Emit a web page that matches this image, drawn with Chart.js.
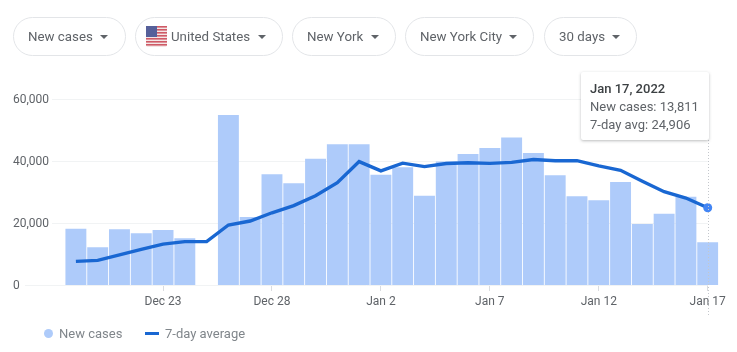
<!DOCTYPE html>
<html lang="en">
<head>
    <meta charset="UTF-8">
    <title>New cases</title>
    <script src="https://cdn.jsdelivr.net/npm/chart.js"></script>
    <style>
        body {
            margin: 0;
            background: #fff;
            font-family: Roboto, Arial, sans-serif;
            overflow: hidden;
        }
        #wrap { position: relative; width: 737px; height: 352px; }
        canvas { position: absolute; left: 0; top: 0; }
        .chip {
            position: absolute;
            top: 17px;
            height: 37px;
            border: 1px solid #e3e5e8;
            border-radius: 20px;
            font-size: 13.3px;
            line-height: 37px;
            color: #5f6368;
            box-sizing: content-box;
            white-space: nowrap;
        }
        .chip span { position: absolute; top: 0; }
        .chip i {
            position: absolute;
            top: 17px;
            width: 0;
            height: 0;
            border-left: 4.5px solid transparent;
            border-right: 4.5px solid transparent;
            border-top: 4.5px solid #5f6368;
        }
        .chip svg { position: absolute; left: 10px; top: 8px; }
        #tip {
            position: absolute;
            left: 581px;
            top: 72px;
            width: 128px;
            height: 68px;
            background: #fff;
            border-radius: 2px;
            box-shadow: 0 1px 3px rgba(60, 64, 67, 0.35);
            font-size: 13px;
            line-height: 18px;
            color: #5f6368;
            padding: 8px 0 0 9px;
            box-sizing: border-box;
        }
        #tip b { color: #3c4043; font-weight: 500; display: block; }
        .legend {
            position: absolute;
            top: 325px;
            font-size: 13px;
            line-height: 18px;
            color: #80868b;
        }
        .mark { position: absolute; }
    </style>
</head>
<body>
<div id="wrap">
    <canvas id="casesChart" width="737" height="352"></canvas>
    <div id="chips"></div>
    <div id="tip"></div>
    <div id="legend"></div>
</div>

<script>
    const days = [
        'Dec 19', 'Dec 20', 'Dec 21', 'Dec 22', 'Dec 23', 'Dec 24', 'Dec 25', 'Dec 26', 'Dec 27', 'Dec 28',
        'Dec 29', 'Dec 30', 'Dec 31', 'Jan 1', 'Jan 2', 'Jan 3', 'Jan 4', 'Jan 5', 'Jan 6', 'Jan 7',
        'Jan 8', 'Jan 9', 'Jan 10', 'Jan 11', 'Jan 12', 'Jan 13', 'Jan 14', 'Jan 15', 'Jan 16', 'Jan 17'
    ];
    const newCases = [
        18170, 12150, 17950, 16660, 17740, 15050, null, 54800, 21900, 35700,
        32800, 40750, 45400, 45400, 35600, 37950, 28800, 39800, 42250, 44200,
        47600, 42600, 35400, 28600, 27300, 33200, 19700, 23000, 28500, 13811
    ];
    const sevenDayAvg = [
        7630, 7950, 9700, 11500, 13200, 14000, 14000, 19350, 20640, 23300,
        25600, 28800, 33000, 39800, 36800, 39300, 38200, 39200, 39450, 39250,
        39550, 40500, 40100, 40100, 38400, 37000, 33500, 30100, 28050, 24906
    ];
    const xTickLabels = ['Dec 23', 'Dec 28', 'Jan 2', 'Jan 7', 'Jan 12', 'Jan 17'];
    const filterLabels = ['New cases', 'United States', 'New York', 'New York City', '30 days'];
    const seriesNames = ['New cases', '7-day average'];

    // chips across the top: [left, width, text left, caret left]
    const chipBoxes = [[13, 111, 14, 86], [135, 146, 35, 122], [292, 102, 14, 78], [405, 127, 14, 103], [544, 91, 14, 67]];
    const flag = '<svg width="21" height="21" viewBox="0 0 21 21">' +
        '<rect width="21" height="21" rx="2" fill="#f3e6e6"/>' +
        [0, 3, 6, 9, 12, 15, 18].map(y => '<rect y="' + y + '" width="21" height="1.6" fill="#cf5a66"/>').join('') +
        '<rect width="11" height="11" fill="#56609a"/></svg>';
    document.getElementById('chips').innerHTML = filterLabels.map((label, i) => {
        const b = chipBoxes[i];
        return '<div class="chip" style="left:' + b[0] + 'px;width:' + b[1] + 'px">' +
            (i === 1 ? flag : '') +
            '<span style="left:' + b[2] + 'px">' + label + '</span>' +
            '<i style="left:' + b[3] + 'px"></i></div>';
    }).join('');

    // tooltip for the last day
    const last = days.length - 1;
    document.getElementById('tip').innerHTML =
        '<b>' + days[last] + ', 2022</b>' +
        '<div>New cases: ' + newCases[last].toLocaleString('en-US') + '</div>' +
        '<div>7-day avg: ' + sevenDayAvg[last].toLocaleString('en-US') + '</div>';

    document.getElementById('legend').innerHTML =
        '<div class="mark" style="left:44px;top:329px;width:9px;height:9px;border-radius:50%;background:#aecbfa"></div>' +
        '<div class="legend" style="left:59px">' + seriesNames[0] + '</div>' +
        '<div class="mark" style="left:145px;top:332px;width:14px;height:3px;background:#1967d2"></div>' +
        '<div class="legend" style="left:165px">' + seriesNames[1] + '</div>';

    // grid lines start right after each label, so draw them here
    const gridAndCursor = {
        id: 'gridAndCursor',
        beforeDatasetsDraw(chart) {
            const ctx = chart.ctx;
            const x = chart.scales.x;
            const y = chart.scales.y;
            const right = x.getPixelForValue(last);
            ctx.save();
            ctx.strokeStyle = '#f1f3f4';
            ctx.lineWidth = 1;
            y.ticks.forEach(t => {
                const py = Math.round(y.getPixelForValue(t.value)) + 0.5;
                ctx.beginPath();
                ctx.moveTo(t.value === 0 ? 25 : 52, py);
                ctx.lineTo(right, py);
                ctx.stroke();
            });
            ctx.restore();
        },
        afterDatasetsDraw(chart) {
            const ctx = chart.ctx;
            const px = Math.round(chart.scales.x.getPixelForValue(last)) + 0.5;
            ctx.save();
            ctx.strokeStyle = '#c4c7cc';
            ctx.setLineDash([1, 2]);
            ctx.beginPath();
            ctx.moveTo(px, 140);
            ctx.lineTo(px, 317);
            ctx.stroke();
            ctx.restore();
        }
    };

    new Chart(document.getElementById('casesChart'), {
        type: 'bar',
        data: {
            labels: days,
            datasets: [
                {
                    type: 'line',
                    label: seriesNames[1],
                    data: sevenDayAvg,
                    borderColor: '#1967d2',
                    borderWidth: 3.4,
                    tension: 0,
                    pointRadius: ctx => ctx.dataIndex === last ? 4.5 : 0,
                    pointBackgroundColor: '#4285f4',
                    pointBorderWidth: 0,
                    order: 0
                },
                {
                    label: seriesNames[0],
                    data: newCases,
                    backgroundColor: '#aecbfa',
                    categoryPercentage: 1,
                    barPercentage: 0.96,
                    order: 1
                }
            ]
        },
        options: {
            responsive: false,
            animation: false,
            layout: { padding: { left: 13, right: 18.4, top: 99, bottom: 37 } },
            plugins: { legend: { display: false }, tooltip: { enabled: false } },
            scales: {
                x: {
                    offset: true,
                    border: { display: false },
                    grid: { offset: false, drawOnChartArea: false, tickLength: 6, tickColor: '#dadce0' },
                    afterBuildTicks: scale => {
                        scale.ticks = scale.ticks.filter(t => xTickLabels.includes(days[t.value]));
                    },
                    afterFit: scale => { scale.height = 30; },
                    ticks: {
                        autoSkip: false,
                        maxRotation: 0,
                        padding: 4,
                        color: '#5f6368',
                        font: { family: 'Roboto', size: 12 }
                    }
                },
                y: {
                    min: 0,
                    max: 60000,
                    border: { display: false },
                    grid: { display: false },
                    afterFit: scale => { scale.width = 52; },
                    ticks: {
                        stepSize: 20000,
                        crossAlign: 'far',
                        labelOffset: 1,
                        color: '#5f6368',
                        font: { family: 'Roboto', size: 12 },
                        callback: v => v.toLocaleString('en-US')
                    }
                }
            }
        },
        plugins: [gridAndCursor]
    });
</script>
</body>
</html>
